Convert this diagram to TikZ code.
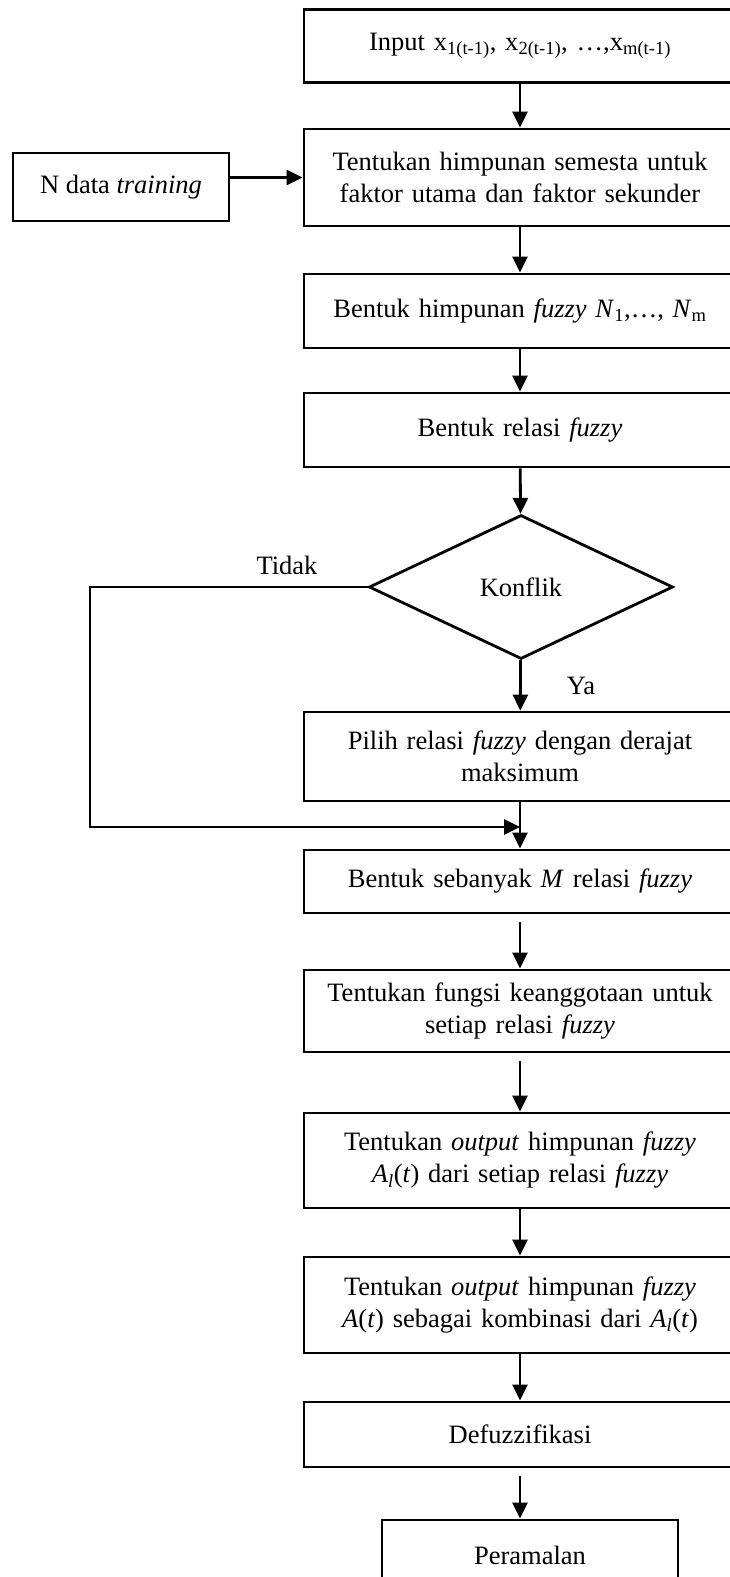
\documentclass[tikz,border=0pt]{standalone}
\usepackage{fontspec}
\setmainfont{Liberation Serif}
\usepackage{tikz}
\usetikzlibrary{shapes.geometric, arrows.meta, positioning}

\begin{document}
\begin{tikzpicture}[
    x=1pt, y=-1pt,
    every node/.style={font=\fontsize{26.5}{32}\selectfont},
    box/.style={draw, line width=2.8pt, minimum width=432pt, text width=425pt, align=center, inner sep=0pt},
    decision/.style={draw, diamond, line width=2.8pt, minimum width=304pt, minimum height=144pt, inner sep=0pt},
    arrow/.style={line width=2.8pt, -{Triangle[length=16pt,width=15pt]}},
    gap/.style={shorten <=8pt}
]
    \useasboundingbox (0,0) rectangle (730,1577);
    \clip (0,0) rectangle (730,1577);

    \node[box, minimum height=73pt] (input) at (520,46) {Input x\textsubscript{1(t-1)}, x\textsubscript{2(t-1)}, \ldots,x\textsubscript{m(t-1)}};
    \node[box, minimum height=97pt] (semesta) at (520,177.5) {Tentukan himpunan semesta untuk\\faktor utama dan faktor sekunder};
    \node[draw, line width=2.8pt, minimum width=216pt, minimum height=68pt] (ndata) at (121,187) {N data \textit{training}};
    \node[box, minimum height=74pt] (himpunan) at (520,311) {Bentuk himpunan \textit{fuzzy N}\textsubscript{1},\ldots, \textit{N}\textsubscript{m}};
    \node[box, minimum height=74pt] (relasi) at (520,430) {Bentuk relasi \textit{fuzzy}};
    \node[decision] (konflik) at (521,587) {Konflik};
    \node[box, minimum height=89pt] (pilih) at (520,756.5) {Pilih relasi \textit{fuzzy} dengan derajat\\maksimum};
    \node[box, minimum height=63pt] (sebanyak) at (520,881.5) {Bentuk sebanyak \textit{M} relasi \textit{fuzzy}};
    \node[box, minimum height=82pt] (fungsi) at (520,1011) {Tentukan fungsi keanggotaan untuk\\setiap relasi \textit{fuzzy}};
    \node[box, minimum height=95pt] (outputa) at (520,1160.5) {Tentukan \textit{output} himpunan \textit{fuzzy}\\\textit{A}\textsubscript{\textit{l}}(\textit{t}) dari setiap relasi \textit{fuzzy}};
    \node[box, minimum height=96pt] (outputb) at (520,1305) {Tentukan \textit{output} himpunan \textit{fuzzy}\\\textit{A}(\textit{t}) sebagai kombinasi dari \textit{A}\textsubscript{\textit{l}}(\textit{t})};
    \node[box, minimum height=65pt] (defuzz) at (520,1434.5) {Defuzzifikasi};
    \node[draw, line width=2.8pt, minimum width=296pt, minimum height=70pt] (ramal) at (530,1555) {Peramalan};

    \node (tidak) at (287,565) {Tidak};
    \node (ya) at (581,686) {Ya};
    \coordinate (loopbot) at (90,827);
    \coordinate (merge) at (520,827);

    \draw[arrow] (input) -- (semesta);
    \draw[arrow] (ndata.east |- semesta) -- (semesta);
    \draw[arrow] (semesta) -- (himpunan);
    \draw[arrow] (himpunan) -- (relasi);
    \draw[arrow] (relasi) -- (konflik);
    \draw[arrow] (konflik) -- (pilih);
    \draw[arrow] (konflik.west) -| (loopbot) -- (merge);
    \draw[arrow] (pilih) -- (sebanyak);
    \draw[arrow, gap] (sebanyak) -- (fungsi);
    \draw[arrow, gap] (fungsi) -- (outputa);
    \draw[arrow] (outputa) -- (outputb);
    \draw[arrow] (outputb) -- (defuzz);
    \draw[arrow, gap] (defuzz) -- (ramal.north -| defuzz);
\end{tikzpicture}
\end{document}
